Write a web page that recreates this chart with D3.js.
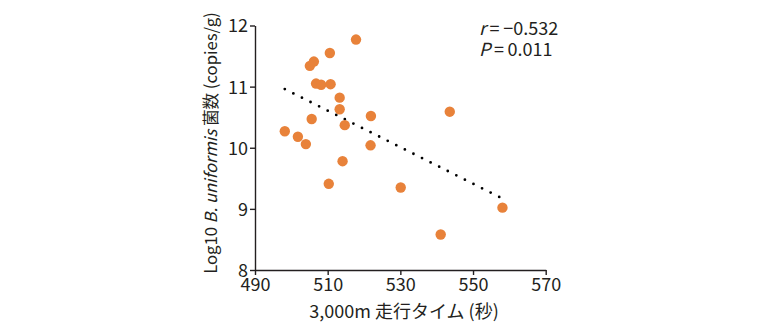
<!DOCTYPE html>
<html>
<head>
<meta charset="utf-8">
<script src="https://cdn.jsdelivr.net/npm/d3@7"></script>
<style>
  html, body { margin: 0; padding: 0; background: #fff; }
  svg text { font-family: "Noto Sans CJK JP", "Noto Sans", sans-serif; fill: #231f20; }
</style>
</head>
<body>
<svg id="chart" width="765" height="335"></svg>
<script>
// Data
const runTime = [517.8, 510.6, 506.2, 505.1, 506.8, 508.2, 510.8, 513.3, 513.3, 505.6, 521.9,
                 543.6, 514.7, 498.2, 501.8, 504.0, 521.8, 514.1, 510.3, 530.1, 558.1, 541.1];
const logCount = [11.77, 11.55, 11.41, 11.34, 11.05, 11.03, 11.04, 10.82, 10.63, 10.47, 10.52,
                  10.59, 10.37, 10.27, 10.18, 10.06, 10.04, 9.78, 9.41, 9.35, 9.02, 8.58];
const trendX = [498.2, 557.4];
const trendY = [10.96, 9.19];
const xTicks = [490, 510, 530, 550, 570];
const yTicks = [8, 9, 10, 11, 12];
const statLines = ["r", "P"];
const statValues = ["\u2009=\u2009\u22120.532", "\u2009=\u20090.011"];

const svg = d3.select("#chart");
const x = d3.scaleLinear().domain([490, 570]).range([255, 545.7]);
const y = d3.scaleLinear().domain([8, 12]).range([270, 25.5]);

const fs = 18;

// axes
const gx = svg.append("g").attr("transform", `translate(0,${y(8)})`)
  .call(d3.axisBottom(x).tickValues(xTicks).tickFormat(d3.format("d")).tickSize(5).tickSizeOuter(0).tickPadding(3));
const gy = svg.append("g").attr("transform", `translate(${x(490)},0)`)
  .call(d3.axisLeft(y).tickValues(yTicks).tickFormat(d3.format("d")).tickSize(5).tickSizeOuter(0).tickPadding(2));
[gx, gy].forEach(g => {
  g.select(".domain").attr("stroke", "#231f20").attr("stroke-width", 1.4);
  g.selectAll(".tick line").attr("stroke", "#231f20").attr("stroke-width", 1.4);
  g.selectAll(".tick text").attr("font-size", fs).attr("font-family", null).style("fill", "#231f20");
});
gy.selectAll(".tick text").attr("dy", "0.36em");

// trend line (dotted)
const trend = trendX.map((d, i) => [d, trendY[i]]);
svg.append("path")
  .attr("d", d3.line().x(d => x(d[0])).y(d => y(d[1]))(trend))
  .attr("fill", "none")
  .attr("stroke", "#000")
  .attr("stroke-width", 2.8)
  .attr("stroke-linecap", "round")
  .attr("stroke-dasharray", "0,9.6");

// points
svg.append("g").selectAll("circle")
  .data(runTime.map((d, i) => [d, logCount[i]]))
  .join("circle")
  .attr("cx", d => x(d[0]))
  .attr("cy", d => y(d[1]))
  .attr("r", 5.2)
  .attr("fill", "#e8823a");

// stats as one text block
const st = svg.append("text")
  .attr("x", 479).attr("y", 35)
  .attr("font-size", fs);
statLines.forEach((s, i) => {
  const a = st.append("tspan").attr("font-style", "italic").text(s);
  if (i > 0) a.attr("x", 479).attr("dy", 20.5);
  st.append("tspan").text(statValues[i]);
});

// x title
svg.append("text")
  .attr("x", 404)
  .attr("y", 318)
  .attr("text-anchor", "middle")
  .attr("font-size", fs)
  .text("3,000m 走行タイム (秒)");

// y title, sized to span the same length as the reference
const yt = svg.append("text")
  .attr("transform", "translate(217,143) rotate(-90)")
  .attr("text-anchor", "middle")
  .attr("font-size", fs);
yt.append("tspan").text("Log10 ");
yt.append("tspan").attr("font-style", "italic").text("B. uniformis");
yt.append("tspan").text(" 菌数 (copies/g)");
const len = yt.node().getComputedTextLength();
yt.attr("font-size", fs * 262 / len);
</script>
</body>
</html>
